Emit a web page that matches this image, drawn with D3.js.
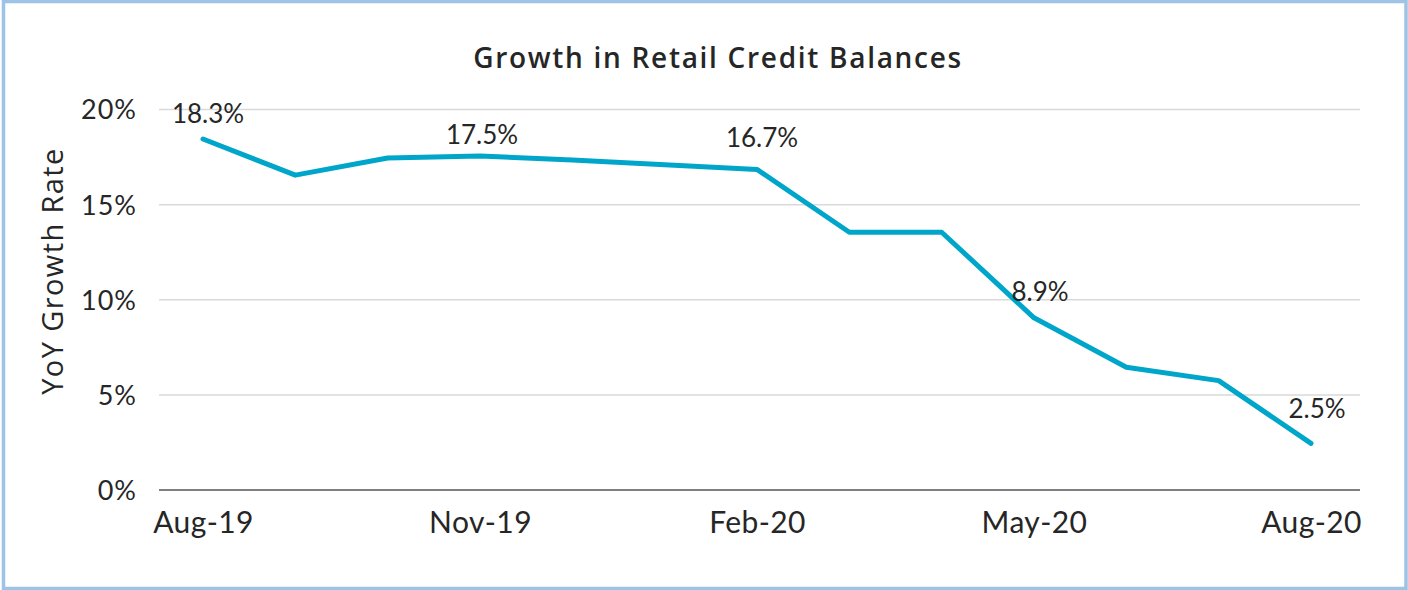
<!DOCTYPE html>
<html lang="en">
<head>
  <meta charset="UTF-8">
  <title>Growth in Retail Credit Balances</title>
  <style>
    html, body { margin: 0; padding: 0; background: #fff; }
    svg { display: block; font-family: Lato, "Open Sans", sans-serif; }
    .titulo { font-family: "Open Sans", sans-serif; font-size: 28px; font-weight: 600; fill: #262626; text-anchor: middle; letter-spacing: 1.7px; }
    .eixo text { font-family: Lato, sans-serif; fill: #262626; }
    .eixo-y text { font-size: 27px; letter-spacing: 1px; }
    .eixo-x text { font-size: 30px; letter-spacing: 0.4px; }
    .rotulo-y { font-family: "Open Sans", sans-serif; font-size: 29px; fill: #262626; text-anchor: middle; letter-spacing: 1.4px; }
    .grade line { stroke: #d9d9d9; stroke-width: 1.5; }
    .linha { fill: none; stroke: #00a6ca; stroke-width: 5; stroke-linejoin: round; stroke-linecap: round; }
    .rotulo { font-size: 26px; fill: #262626; text-anchor: middle; }
  </style>
</head>
<body>
  <svg id="grafico"></svg>

  <script src="https://d3js.org/d3.v7.min.js"></script>
  <script>
    const meses = ['Aug-19', 'Sep-19', 'Oct-19', 'Nov-19', 'Dec-19', 'Jan-20', 'Feb-20',
                   'Mar-20', 'Apr-20', 'May-20', 'Jun-20', 'Jul-20', 'Aug-20'];
    const crescimento = [18.45, 16.55, 17.45, 17.55, 17.35, 17.1, 16.85,
                         13.55, 13.55, 9.05, 6.45, 5.75, 2.45];
    const rotulos = ['18.3%', null, null, '17.5%', null, null, '16.7%',
                     null, null, '8.9%', null, null, '2.5%'];
    const ticksX = ['Aug-19', 'Nov-19', 'Feb-20', 'May-20', 'Aug-20'];
    const ticksY = [0, 5, 10, 15, 20];

    function executa() {
      const largura = 1408;
      const altura = 590;
      const svg = d3.select('#grafico').attr('width', largura).attr('height', altura);

      // moldura azul clara
      svg.append('rect')
        .attr('x', 3.5).attr('y', 1.5)
        .attr('width', largura - 5.5).attr('height', altura - 3)
        .attr('fill', '#fff')
        .attr('stroke', '#9dc3e6')
        .attr('stroke-width', 3.5);

      const x = d3.scalePoint().domain(meses).range([203, 1311]);
      const y = d3.scaleLinear().domain([0, 20]).range([490, 109.5]);
      const esq = 159, dir = 1360;

      // grade
      svg.append('g').classed('grade', true)
        .selectAll('line')
        .data(ticksY.filter(d => d > 0))
        .enter()
        .append('line')
        .attr('x1', esq).attr('x2', dir)
        .attr('y1', d => y(d)).attr('y2', d => y(d));

      // eixo y (só textos)
      const eixoY = svg.append('g').classed('eixo eixo-y', true)
        .attr('transform', `translate(${esq},0)`)
        .call(d3.axisLeft(y).tickValues(ticksY).tickFormat(d => d + '%').tickSize(0).tickPadding(22));
      eixoY.select('.domain').remove();
      eixoY.selectAll('text').attr('dy', '0.35em');

      // eixo x
      const eixoX = svg.append('g').classed('eixo eixo-x', true)
        .attr('transform', `translate(0,${y(0)})`)
        .call(d3.axisBottom(x).tickValues(ticksX).tickSize(0).tickPadding(22));
      eixoX.select('.domain').remove();
      svg.append('line')
        .attr('x1', esq).attr('x2', dir)
        .attr('y1', y(0)).attr('y2', y(0))
        .attr('stroke', '#808080').attr('stroke-width', 1.8);

      // linha
      const linha = d3.line().x((d, i) => x(meses[i])).y(d => y(d));
      svg.append('path')
        .datum(crescimento)
        .classed('linha', true)
        .attr('d', linha);

      // rótulos de dados
      const ajuste = { 0: [5, -16], 3: [2, -12], 6: [5, -22], 9: [6, -17], 12: [6, -25] };
      svg.selectAll('.rotulo')
        .data(crescimento.map((v, i) => ({ v, i, t: rotulos[i] })).filter(d => d.t))
        .enter()
        .append('text')
        .classed('rotulo', true)
        .attr('x', d => x(meses[d.i]) + ajuste[d.i][0])
        .attr('y', d => y(d.v) + ajuste[d.i][1])
        .text(d => d.t);

      // título
      svg.append('text').classed('titulo', true)
        .attr('x', 718).attr('y', 68)
        .text('Growth in Retail Credit Balances');

      // rótulo do eixo y
      svg.append('text').classed('rotulo-y', true)
        .attr('transform', 'translate(63,271) rotate(-90)')
        .text('YoY Growth Rate');
    }

    executa();
  </script>
</body>
</html>
